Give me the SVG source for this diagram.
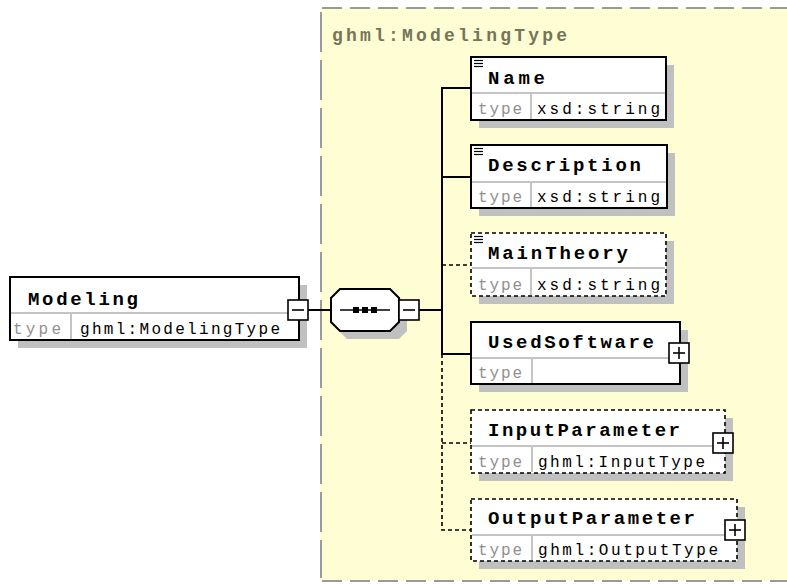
<svg xmlns="http://www.w3.org/2000/svg" width="787" height="584" viewBox="0 0 787 584">
<style>
.bg{fill:#fefdd4}
.sh{fill:#c0c0c0}
.box{fill:#fff;stroke:#000;stroke-width:2}
.dbox{fill:#fff;stroke:#000;stroke-width:1.6;stroke-dasharray:4 3}
.div{stroke:#8a8a8a;stroke-width:1}
.name{font-family:"Liberation Mono","DejaVu Sans Mono",monospace;font-weight:bold;font-size:19px;fill:#000}
.tl{font-family:"Liberation Mono","DejaVu Sans Mono",monospace;font-size:16px;fill:#909090}
.tv{font-family:"Liberation Mono","DejaVu Sans Mono",monospace;font-size:16px;fill:#000}
.title{font-family:"Liberation Mono","DejaVu Sans Mono",monospace;font-weight:bold;font-size:18px;fill:#75755a}
.con{stroke:#000;stroke-width:2;fill:none}
.dcon{stroke:#000;stroke-width:1.6;fill:none;stroke-dasharray:4 3}
.btn{fill:#fff;stroke:#000;stroke-width:1.6}
.sym{stroke:#000;stroke-width:1.6}
.ic{stroke:#000;stroke-width:1.2}
</style>
<rect width="787" height="584" fill="#fff"/>
<g id="complexType">
<rect class="bg" x="320" y="8" width="467" height="573"/>
<line x1="322" y1="8" x2="787" y2="8" stroke="#9a9a9a" stroke-width="2" stroke-dasharray="20 8"/>
<line x1="322" y1="581" x2="787" y2="581" stroke="#9a9a9a" stroke-width="2" stroke-dasharray="20 8"/>
<line x1="321" y1="12" x2="321" y2="578" stroke="#9a9a9a" stroke-width="2" stroke-dasharray="40 8"/>
<text class="title" x="332" y="41" textLength="235" lengthAdjust="spacing">ghml:ModelingType</text>
</g>
<g id="connectors">
<line class="con" x1="308" y1="310" x2="331" y2="310"/>
<line class="con" x1="419" y1="310" x2="442" y2="310"/>
<polyline class="con" points="471,88 442,88 442,354 471,354"/>
<line class="con" x1="442" y1="177" x2="471" y2="177"/>
<line class="dcon" x1="442" y1="265" x2="471" y2="265"/>
<polyline class="dcon" points="442,354 442,530 471,530"/>
<line class="dcon" x1="442" y1="443" x2="471" y2="443"/>
</g>
<g id="Modeling">
<rect class="sh" x="18" y="285" width="289" height="63"/>
<rect class="box" x="10" y="277" width="289" height="63"/>
<line class="div" x1="11" y1="313" x2="298" y2="313"/>
<line class="div" x1="71" y1="314" x2="71" y2="339"/>
<text class="name" x="28" y="305" textLength="110" lengthAdjust="spacing">Modeling</text>
<text class="tl" x="13" y="334" textLength="48" lengthAdjust="spacing">type</text>
<text class="tv" x="80" y="334" textLength="200" lengthAdjust="spacing">ghml:ModelingType</text>
<rect class="btn" x="288" y="300" width="20" height="20"/>
<line class="sym" x1="292" y1="310" x2="304" y2="310"/>
</g>
<g id="sequence">
<polygon class="sh" points="347,297 399,297 407,305 407,331 399,339 347,339 339,331 339,305"/>
<polygon class="box" points="340,289 390,289 399,298 399,322 390,331 340,331 331,322 331,298"/>
<line x1="340" y1="310" x2="390" y2="310" stroke="#000" stroke-width="1.5"/>
<rect x="353" y="307" width="6" height="6" fill="#000"/>
<rect x="362" y="307" width="6" height="6" fill="#000"/>
<rect x="371" y="307" width="6" height="6" fill="#000"/>
<rect class="btn" x="399" y="300" width="20" height="20"/>
<line class="sym" x1="403" y1="310" x2="415" y2="310"/>
</g>
<g id="Name">
<rect class="sh" x="479" y="65" width="195" height="63"/>
<rect class="box" x="471" y="57" width="195" height="63"/>
<line class="div" x1="472" y1="93" x2="665" y2="93"/>
<line class="div" x1="531" y1="94" x2="531" y2="119"/>
<line class="ic" x1="474" y1="60.5" x2="483" y2="60.5"/><line class="ic" x1="474" y1="63.5" x2="483" y2="63.5"/><line class="ic" x1="474" y1="66.5" x2="483" y2="66.5"/>
<text class="name" x="488" y="84" textLength="57" lengthAdjust="spacing">Name</text>
<text class="tl" x="478" y="114" textLength="44" lengthAdjust="spacing">type</text>
<text class="tv" x="537" y="114" textLength="123" lengthAdjust="spacing">xsd:string</text>
</g>
<g id="Description">
<rect class="sh" x="479" y="153" width="196" height="63"/>
<rect class="box" x="471" y="145" width="196" height="63"/>
<line class="div" x1="472" y1="182" x2="666" y2="182"/>
<line class="div" x1="531" y1="183" x2="531" y2="207"/>
<line class="ic" x1="474" y1="148.5" x2="483" y2="148.5"/><line class="ic" x1="474" y1="151.5" x2="483" y2="151.5"/><line class="ic" x1="474" y1="154.5" x2="483" y2="154.5"/>
<text class="name" x="488" y="171" textLength="153" lengthAdjust="spacing">Description</text>
<text class="tl" x="478" y="202" textLength="44" lengthAdjust="spacing">type</text>
<text class="tv" x="537" y="202" textLength="123" lengthAdjust="spacing">xsd:string</text>
</g>
<g id="MainTheory">
<rect class="sh" x="479" y="241" width="195" height="63"/>
<rect class="dbox" x="471" y="233" width="195" height="63"/>
<line class="div" x1="472" y1="268" x2="665" y2="268"/>
<line class="div" x1="531" y1="269" x2="531" y2="295"/>
<line class="ic" x1="474" y1="236.5" x2="483" y2="236.5"/><line class="ic" x1="474" y1="239.5" x2="483" y2="239.5"/><line class="ic" x1="474" y1="242.5" x2="483" y2="242.5"/>
<text class="name" x="488" y="259" textLength="140" lengthAdjust="spacing">MainTheory</text>
<text class="tl" x="478" y="290" textLength="44" lengthAdjust="spacing">type</text>
<text class="tv" x="537" y="290" textLength="123" lengthAdjust="spacing">xsd:string</text>
</g>
<g id="UsedSoftware">
<rect class="sh" x="479" y="330" width="209" height="62"/>
<rect class="box" x="471" y="322" width="209" height="62"/>
<line class="div" x1="472" y1="358" x2="679" y2="358"/>
<line class="div" x1="532" y1="359" x2="532" y2="383"/>
<text class="name" x="488" y="348" textLength="166" lengthAdjust="spacing">UsedSoftware</text>
<text class="tl" x="478" y="378" textLength="44" lengthAdjust="spacing">type</text>
<rect class="btn" x="669" y="343" width="20" height="20"/>
<line class="sym" x1="673" y1="353" x2="685" y2="353"/><line class="sym" x1="679" y1="347" x2="679" y2="359"/>
</g>
<g id="InputParameter">
<rect class="sh" x="479" y="418" width="254" height="63"/>
<rect class="dbox" x="471" y="410" width="254" height="63"/>
<line class="div" x1="472" y1="446" x2="724" y2="446"/>
<line class="div" x1="532" y1="447" x2="532" y2="472"/>
<text class="name" x="488" y="436" textLength="192" lengthAdjust="spacing">InputParameter</text>
<text class="tl" x="478" y="467" textLength="44" lengthAdjust="spacing">type</text>
<text class="tv" x="538" y="467" textLength="167" lengthAdjust="spacing">ghml:InputType</text>
<rect class="btn" x="713" y="433" width="20" height="20"/>
<line class="sym" x1="717" y1="443" x2="729" y2="443"/><line class="sym" x1="723" y1="437" x2="723" y2="449"/>
</g>
<g id="OutputParameter">
<rect class="sh" x="479" y="507" width="266" height="62"/>
<rect class="dbox" x="471" y="499" width="266" height="62"/>
<line class="div" x1="472" y1="535" x2="736" y2="535"/>
<line class="div" x1="532" y1="536" x2="532" y2="560"/>
<text class="name" x="488" y="524" textLength="207" lengthAdjust="spacing">OutputParameter</text>
<text class="tl" x="478" y="555" textLength="44" lengthAdjust="spacing">type</text>
<text class="tv" x="538" y="555" textLength="180" lengthAdjust="spacing">ghml:OutputType</text>
<rect class="btn" x="725" y="520" width="20" height="20"/>
<line class="sym" x1="729" y1="530" x2="741" y2="530"/><line class="sym" x1="735" y1="524" x2="735" y2="536"/>
</g>
</svg>
